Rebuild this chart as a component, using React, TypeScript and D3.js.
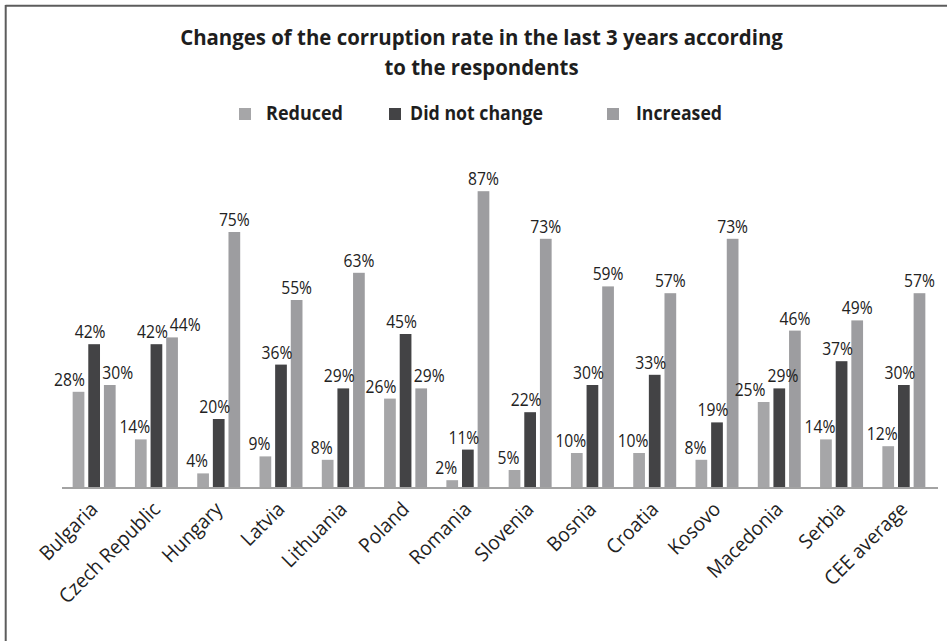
import React, { useEffect } from "react";
import * as d3 from "d3";

const categories = [
  "Bulgaria", "Czech Republic", "Hungary", "Latvia", "Lithuania", "Poland", "Romania",
  "Slovenia", "Bosnia", "Croatia", "Kosovo", "Macedonia", "Serbia", "CEE average",
];
const seriesNames = ["Reduced", "Did not change", "Increased"];
const reduced = [28, 14, 4, 9, 8, 26, 2, 5, 10, 10, 8, 25, 14, 12];
const noChange = [42, 42, 20, 36, 29, 45, 11, 22, 30, 33, 19, 29, 37, 30];
const increased = [30, 44, 75, 55, 63, 29, 87, 73, 59, 57, 73, 46, 49, 57];
const titleLines = ["Changes of the corruption rate in the last 3 years according", "to the respondents"];

const W = 947;
const H = 641;
const COLORS = ["#a6a6a8", "#434345", "#9d9da0"];
const FONT = "'Open Sans', 'Noto Sans', sans-serif";

let ctx: CanvasRenderingContext2D | null = null;
function measure(text: string, font: string): number {
  if (!ctx) ctx = document.createElement("canvas").getContext("2d");
  if (!ctx) return text.length * 10;
  ctx.font = font;
  return ctx.measureText(text).width;
}

export default function App() {
  useEffect(() => {
    document.body.style.margin = "0";
    document.body.style.overflow = "hidden";
  }, []);

  const series = [reduced, noChange, increased];
  const baseY = 487;
  const x = d3.scaleBand<string>().domain(categories).range([63, 935]).paddingInner(0.31).paddingOuter(0.155);
  const xs = d3.scaleBand<number>().domain([0, 1, 2]).range([0, x.bandwidth()]).paddingInner(0.25);
  const y = d3.scaleLinear().domain([0, 100]).range([baseY, 147]);

  const titleSize = 22;
  const titleFont = `bold ${titleSize}px ${FONT}`;
  const titleSx = 603 / measure(titleLines[0], titleFont);

  const labelSize = 18;
  const labelSx = 0.87;
  const labelFont = `${labelSize}px ${FONT}`;
  const catSize = 20;
  const catSx = 0.95;

  // value labels with simple collision avoidance inside each group
  const dxBySeries = [-6, -4, 0];
  const labels: { x: number; y: number; text: string; key: string }[] = [];
  categories.forEach((c, i) => {
    const boxes = series.map((s, k) => {
      const text = `${s[i]}%`;
      const w = measure(text, labelFont) * labelSx;
      const cx = (x(c) as number) + (xs(k) as number) + xs.bandwidth() / 2 + dxBySeries[k];
      return { cx, y: y(s[i]) - 6, w, text, k };
    });
    if (Math.abs(boxes[0].y - boxes[2].y) < 15) {
      boxes[0].cx -= 3;
      boxes[2].cx += 8;
    }
    for (let k = 1; k < 3; k++) {
      const a = boxes[k - 1];
      const b = boxes[k];
      if (Math.abs(a.y - b.y) < 15) {
        const need = a.cx + a.w / 2 + 2 - (b.cx - b.w / 2);
        if (need > 0) {
          if (k === 1) {
            a.cx -= need / 2;
            b.cx += need / 2;
          } else {
            b.cx += need;
          }
        }
      }
    }
    boxes.forEach((b) => labels.push({ x: b.cx, y: b.y, text: b.text, key: `${c}-${b.k}` }));
  });

  const legendItems = [
    { sq: 239, tx: 266, tw: 77 },
    { sq: 389, tx: 410, tw: 133 },
    { sq: 607, tx: 636, tw: 86 },
  ];

  return (
    <div style={{ position: "absolute", left: 0, top: 0, width: W, height: H, overflow: "hidden" }}>
      <svg width={W} height={H} style={{ display: "block", background: "#fff" }}>
        <rect x={0} y={0} width={W} height={H} fill="#ffffff" />
        <line x1={5.5} y1={5.7} x2={W} y2={5.7} stroke="#5c5c5c" strokeWidth={2} />
        <line x1={5.7} y1={5} x2={5.7} y2={H} stroke="#5c5c5c" strokeWidth={2} />

        {titleLines.map((t, i) => (
          <text
            key={t}
            transform={`translate(481.5,${45 + i * 30}) scale(${titleSx},1)`}
            textAnchor="middle"
            fontFamily={FONT}
            fontWeight="bold"
            fontSize={titleSize}
            fill="#1e1e1e"
          >
            {t}
          </text>
        ))}

        {legendItems.map((l, k) => (
          <g key={seriesNames[k]}>
            <rect x={l.sq} y={108} width={12} height={12} fill={COLORS[k]} />
            <text
              x={l.tx}
              y={120}
              fontFamily={FONT}
              fontWeight="bold"
              fontSize={20}
              fill="#1e1e1e"
              textLength={l.tw}
              lengthAdjust="spacingAndGlyphs"
            >
              {seriesNames[k]}
            </text>
          </g>
        ))}

        {categories.map((c, i) => (
          <g key={c} transform={`translate(${x(c)},0)`}>
            {series.map((s, k) => (
              <rect
                key={k}
                x={xs(k)}
                y={y(s[i])}
                width={xs.bandwidth()}
                height={baseY - y(s[i])}
                fill={COLORS[k]}
              />
            ))}
          </g>
        ))}

        <line x1={62} y1={baseY + 1} x2={938} y2={baseY + 1} stroke="#a3a3a3" strokeWidth={2} />

        {labels.map((l) => (
          <text
            key={l.key}
            transform={`translate(${l.x},${l.y}) scale(${labelSx},1)`}
            textAnchor="middle"
            fontFamily={FONT}
            fontSize={labelSize}
            fill="#222"
          >
            {l.text}
          </text>
        ))}

        {categories.map((c) => (
          <text
            key={c}
            transform={`translate(${(x(c) as number) + x.bandwidth() / 2},505.5) rotate(-45) scale(${catSx},1)`}
            textAnchor="end"
            dy="0.35em"
            fontFamily={FONT}
            fontSize={catSize}
            fill="#222"
          >
            {c}
          </text>
        ))}
      </svg>
    </div>
  );
}
